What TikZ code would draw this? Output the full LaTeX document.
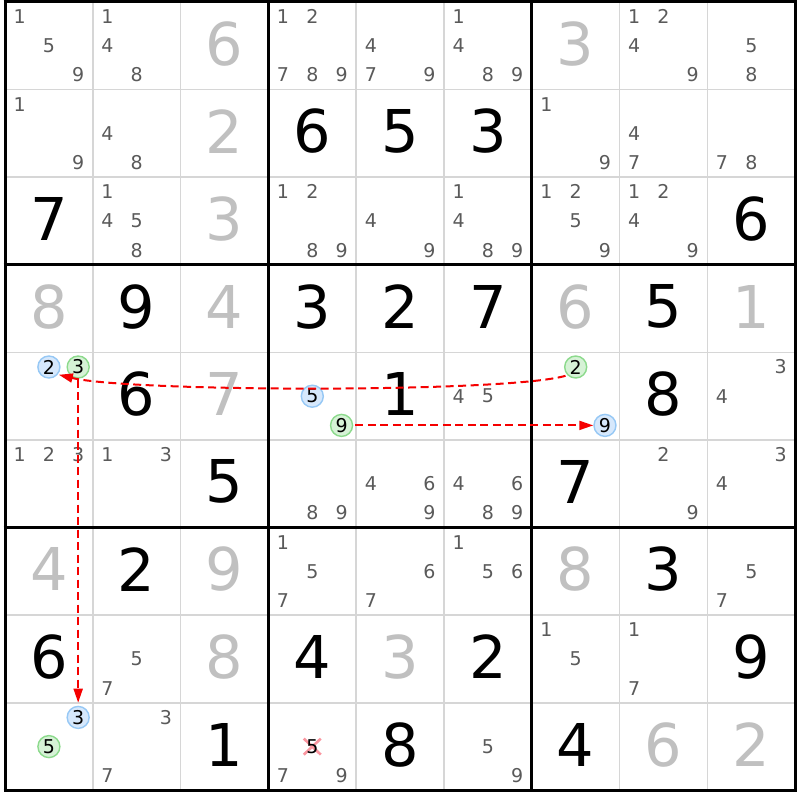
\documentclass[tikz,border=0pt]{standalone}
\usepackage{fontspec}
\setmainfont{DejaVu Sans}
\usetikzlibrary{arrows.meta}
\definecolor{candgray}{RGB}{90,90,90}
\definecolor{solvgray}{RGB}{192,192,192}
\definecolor{thingray}{RGB}{214,214,214}
\definecolor{bfill}{RGB}{214,232,252}
\definecolor{bline}{RGB}{150,200,245}
\definecolor{gfill}{RGB}{214,242,214}
\definecolor{gline}{RGB}{140,218,140}
\definecolor{arrred}{RGB}{245,0,0}
\definecolor{xpink}{RGB}{250,150,160}
\newcommand\SetXY[3]{\pgfmathsetmacro\cX{5+87.8*#1+87.8*(2*mod(#3-1,3)+1)/6}\pgfmathsetmacro\cY{2+87.6*#2+87.6*(2*int((#3-1)/3)+1)/6}}
\newcommand\Cands[3]{\foreach \k in {#3}{\SetXY{#1}{#2}{\k}\node[candtxt] (k-#2-#1-\k) at (\cX,\cY) {\k};}}
\newcommand\Digit[4]{\pgfmathsetmacro\cX{5+87.8*#2+43.9}\pgfmathsetmacro\cY{2+87.6*#3+41.8}\node[#1] (d-#3-#2) at (\cX,\cY) {#4};}
\newcommand\Circ[5]{\SetXY{#2}{#3}{#4}\node[#1] (#5) at (\cX,\cY) {#4};}
\begin{document}
\begin{tikzpicture}[x=1pt,y=-1pt,
  candtxt/.style={text=candgray, font=\fontsize{19}{19}\selectfont, inner sep=0pt},
  given/.style={text=black, font=\fontsize{59}{59}\selectfont, inner sep=0pt},
  solved/.style={text=solvgray, font=\fontsize{59}{59}\selectfont, inner sep=0pt},
  bluec/.style={circle, draw=bline, fill=bfill, line width=1.4pt, minimum size=22pt, inner sep=0pt, text=black, font=\fontsize{19}{19}\selectfont},
  greenc/.style={circle, draw=gline, fill=gfill, line width=1.4pt, minimum size=22pt, inner sep=0pt, text=black, font=\fontsize{19}{19}\selectfont},
  crossc/.style={inner sep=0pt, text=black, font=\fontsize{19}{19}\selectfont},
  xmark/.style={draw=xpink, line width=2.6pt},
  thinline/.style={draw=thingray, line width=1.6pt},
  thickline/.style={draw=black, line width=3pt},
  arr/.style={draw=arrred, line width=2pt, dash pattern=on 8pt off 4.5pt, -{Triangle[length=14pt,width=9pt]}}
]
\useasboundingbox (0,0) rectangle (800,800);
\fill[white] (0,0) rectangle (800,800);
% grid
\foreach \i in {1,2,4,5,7,8}{
  \draw[thinline] ({5+87.8*\i},2) -- ({5+87.8*\i},790);
  \draw[thinline] (5,{2+87.6*\i}) -- (795,{2+87.6*\i});
}
\foreach \i in {0,3,6,9}{
  \draw[thickline] ({5+87.8*\i},0.5) -- ({5+87.8*\i},791.5);
  \draw[thickline] (3.5,{2+87.6*\i}) -- (796.5,{2+87.6*\i});
}
% row 0
\Cands{0}{0}{1,5,9} \Cands{1}{0}{1,4,8} \Digit{solved}{2}{0}{6}
\Cands{3}{0}{1,2,7,8,9} \Cands{4}{0}{4,7,9} \Cands{5}{0}{1,4,8,9}
\Digit{solved}{6}{0}{3} \Cands{7}{0}{1,2,4,9} \Cands{8}{0}{5,8}
% row 1
\Cands{0}{1}{1,9} \Cands{1}{1}{4,8} \Digit{solved}{2}{1}{2}
\Digit{given}{3}{1}{6} \Digit{given}{4}{1}{5} \Digit{given}{5}{1}{3}
\Cands{6}{1}{1,9} \Cands{7}{1}{4,7} \Cands{8}{1}{7,8}
% row 2
\Digit{given}{0}{2}{7} \Cands{1}{2}{1,4,5,8} \Digit{solved}{2}{2}{3}
\Cands{3}{2}{1,2,8,9} \Cands{4}{2}{4,9} \Cands{5}{2}{1,4,8,9}
\Cands{6}{2}{1,2,5,9} \Cands{7}{2}{1,2,4,9} \Digit{given}{8}{2}{6}
% row 3
\Digit{solved}{0}{3}{8} \Digit{given}{1}{3}{9} \Digit{solved}{2}{3}{4}
\Digit{given}{3}{3}{3} \Digit{given}{4}{3}{2} \Digit{given}{5}{3}{7}
\Digit{solved}{6}{3}{6} \Digit{given}{7}{3}{5} \Digit{solved}{8}{3}{1}
% row 4
\Circ{bluec}{0}{4}{2}{b402} \Circ{greenc}{0}{4}{3}{g403}
\Digit{given}{1}{4}{6} \Digit{solved}{2}{4}{7}
\Circ{bluec}{3}{4}{5}{b435} \Circ{greenc}{3}{4}{9}{g439}
\Digit{given}{4}{4}{1} \Cands{5}{4}{4,5}
\Circ{greenc}{6}{4}{2}{g462} \Circ{bluec}{6}{4}{9}{b469}
\Digit{given}{7}{4}{8} \Cands{8}{4}{3,4}
% row 5
\Cands{0}{5}{1,2,3} \Cands{1}{5}{1,3} \Digit{given}{2}{5}{5}
\Cands{3}{5}{8,9} \Cands{4}{5}{4,6,9} \Cands{5}{5}{4,6,8,9}
\Digit{given}{6}{5}{7} \Cands{7}{5}{2,9} \Cands{8}{5}{3,4}
% row 6
\Digit{solved}{0}{6}{4} \Digit{given}{1}{6}{2} \Digit{solved}{2}{6}{9}
\Cands{3}{6}{1,5,7} \Cands{4}{6}{6,7} \Cands{5}{6}{1,5,6}
\Digit{solved}{6}{6}{8} \Digit{given}{7}{6}{3} \Cands{8}{6}{5,7}
% row 7
\Digit{given}{0}{7}{6} \Cands{1}{7}{5,7} \Digit{solved}{2}{7}{8}
\Digit{given}{3}{7}{4} \Digit{solved}{4}{7}{3} \Digit{given}{5}{7}{2}
\Cands{6}{7}{1,5} \Cands{7}{7}{1,7} \Digit{given}{8}{7}{9}
% row 8
\Circ{bluec}{0}{8}{3}{b803} \Circ{greenc}{0}{8}{5}{g805}
\Cands{1}{8}{3,7} \Digit{given}{2}{8}{1}
\SetXY{3}{8}{5}
\draw[xmark] (\cX-8.5,\cY-8) -- (\cX+8.5,\cY+8) (\cX-8.5,\cY+8) -- (\cX+8.5,\cY-8);
\node[crossc] (x835) at (\cX,\cY) {5};
\Cands{3}{8}{7,9} \Digit{given}{4}{8}{8} \Cands{5}{8}{5,9}
\Digit{given}{6}{8}{4} \Digit{solved}{7}{8}{6} \Digit{solved}{8}{8}{2}
% arrows
\draw[arr, shorten <=2pt, shorten >=1pt] (g462.225) .. controls (505,393) and (130,392) .. (b402.-40);
\draw[arr, shorten <=2pt] (g439) -- (b469);
\draw[arr, shorten <=1pt, shorten >=3pt] (g403) -- (b803);
\end{tikzpicture}
\end{document}
